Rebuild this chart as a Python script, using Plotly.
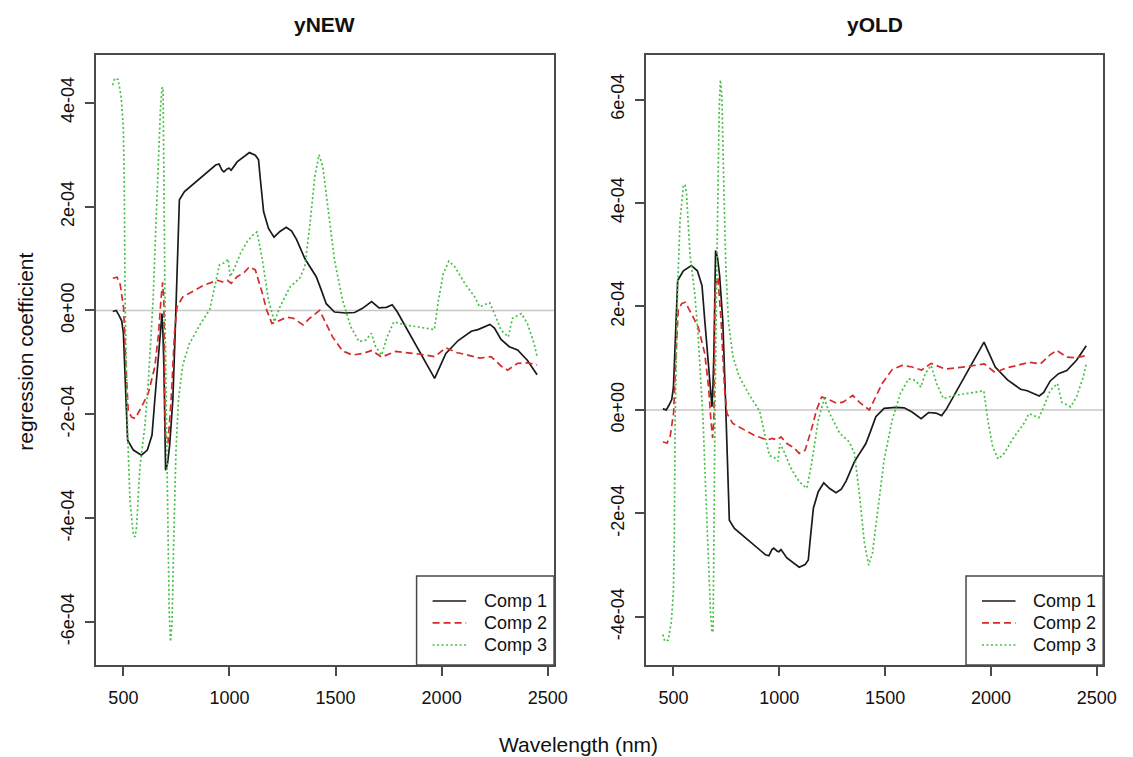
import plotly.graph_objects as go

# ---------------- data ----------------
wl_c1 = [450, 466, 480, 492, 500, 508, 520, 547, 585, 613, 635, 648, 666, 682, 687, 691, 699, 708, 718, 733,
         744, 749, 752, 758, 764, 788, 834, 881, 935, 951, 965, 974, 990, 998, 1008, 1036, 1068, 1094, 1122, 1137,
         1145, 1161, 1184, 1210, 1238, 1268, 1293, 1316, 1355, 1409, 1433, 1456, 1495, 1549, 1590, 1627, 1670, 1705,
         1740, 1767, 1790, 1967, 2020, 2078, 2140, 2171, 2228, 2249, 2280, 2319, 2358, 2404, 2450]
ynew_c1 = [-0.02e-4, 0.00e-4, -0.10e-4, -0.20e-4, -0.44e-4, -1.41e-4, -2.50e-4, -2.69e-4, -2.79e-4, -2.69e-4,
           -2.40e-4, -1.73e-4, -0.76e-4, -0.06e-4, -0.50e-4, -1.09e-4, -3.08e-4, -2.95e-4, -2.60e-4, -1.73e-4,
           -0.44e-4, 0.20e-4, 0.97e-4, 1.60e-4, 2.13e-4, 2.29e-4, 2.45e-4, 2.61e-4, 2.80e-4, 2.82e-4,
           2.70e-4, 2.67e-4, 2.73e-4, 2.74e-4, 2.70e-4, 2.86e-4, 2.96e-4, 3.04e-4, 2.99e-4, 2.90e-4,
           2.55e-4, 1.90e-4, 1.58e-4, 1.41e-4, 1.52e-4, 1.60e-4, 1.53e-4, 1.37e-4, 1.00e-4, 0.65e-4,
           0.39e-4, 0.13e-4, -0.03e-4, -0.05e-4, -0.04e-4, 0.04e-4, 0.17e-4, 0.05e-4,
           0.06e-4, 0.11e-4, -0.02e-4, -1.31e-4, -0.83e-4, -0.58e-4, -0.40e-4, -0.37e-4, -0.27e-4, -0.34e-4,
           -0.56e-4, -0.70e-4, -0.76e-4, -0.96e-4, -1.24e-4]
yold_c1 = [0.02e-4, 0.00e-4, 0.10e-4, 0.20e-4, 0.44e-4, 1.41e-4, 2.50e-4, 2.69e-4, 2.79e-4, 2.69e-4,
           2.40e-4, 1.73e-4, 0.76e-4, 0.06e-4, 0.50e-4, 1.09e-4, 3.08e-4, 2.95e-4, 2.60e-4, 1.73e-4,
           0.44e-4, -0.20e-4, -0.97e-4, -1.60e-4, -2.13e-4, -2.29e-4, -2.45e-4, -2.61e-4, -2.80e-4, -2.82e-4,
           -2.70e-4, -2.67e-4, -2.73e-4, -2.74e-4, -2.70e-4, -2.86e-4, -2.96e-4, -3.04e-4, -2.99e-4, -2.90e-4,
           -2.55e-4, -1.90e-4, -1.58e-4, -1.41e-4, -1.52e-4, -1.60e-4, -1.53e-4, -1.37e-4, -1.00e-4, -0.65e-4,
           -0.39e-4, -0.13e-4, 0.03e-4, 0.05e-4, 0.04e-4, -0.04e-4, -0.17e-4, -0.05e-4,
           -0.06e-4, -0.11e-4, 0.02e-4, 1.31e-4, 0.83e-4, 0.58e-4, 0.40e-4, 0.37e-4, 0.27e-4, 0.34e-4,
           0.56e-4, 0.70e-4, 0.76e-4, 0.96e-4, 1.24e-4]

wl_c2 = [450, 470, 485, 501, 512, 523, 540, 556, 585, 617, 648, 666, 677, 685, 691, 697, 710, 725, 741, 753,
         780, 834, 881, 943, 966, 990, 1008, 1036, 1069, 1094, 1122, 1153, 1176, 1200, 1223, 1270, 1301, 1347, 1378,
         1425, 1456, 1486, 1533, 1580, 1627, 1672, 1717, 1783, 1891, 1968, 2020, 2070, 2124, 2180, 2233, 2280, 2311,
         2358, 2404, 2450]
ynew_c2 = [0.62e-4, 0.64e-4, 0.50e-4, 0.05e-4, -1.08e-4, -1.95e-4, -2.06e-4, -2.08e-4, -1.86e-4, -1.60e-4,
           -1.09e-4, -0.44e-4, 0.20e-4, 0.54e-4, 0.20e-4, -2.37e-4, -2.56e-4, -1.73e-4, -0.44e-4, 0.07e-4,
           0.26e-4, 0.39e-4, 0.49e-4, 0.58e-4, 0.55e-4, 0.58e-4, 0.52e-4, 0.65e-4, 0.73e-4, 0.84e-4,
           0.78e-4, 0.36e-4, 0.00e-4, -0.25e-4, -0.22e-4, -0.13e-4, -0.15e-4, -0.28e-4, -0.15e-4,
           0.00e-4, -0.25e-4, -0.51e-4, -0.78e-4, -0.86e-4, -0.83e-4, -0.77e-4, -0.90e-4, -0.79e-4, -0.84e-4,
           -0.89e-4, -0.72e-4, -0.81e-4, -0.86e-4, -0.92e-4, -0.89e-4, -1.07e-4, -1.15e-4,
           -1.02e-4, -1.01e-4, -1.05e-4]
yold_c2 = [-0.62e-4, -0.64e-4, -0.50e-4, -0.05e-4, 1.08e-4, 1.95e-4, 2.06e-4, 2.08e-4, 1.86e-4, 1.60e-4,
           1.09e-4, 0.44e-4, -0.20e-4, -0.54e-4, -0.20e-4, 2.37e-4, 2.56e-4, 1.73e-4, 0.44e-4, -0.07e-4,
           -0.26e-4, -0.39e-4, -0.49e-4, -0.58e-4, -0.55e-4, -0.58e-4, -0.52e-4, -0.65e-4, -0.73e-4, -0.84e-4,
           -0.78e-4, -0.36e-4, 0.00e-4, 0.25e-4, 0.22e-4, 0.13e-4, 0.15e-4, 0.28e-4, 0.15e-4,
           0.00e-4, 0.25e-4, 0.51e-4, 0.78e-4, 0.86e-4, 0.83e-4, 0.77e-4, 0.90e-4, 0.79e-4, 0.84e-4,
           0.89e-4, 0.72e-4, 0.81e-4, 0.86e-4, 0.92e-4, 0.89e-4, 1.07e-4, 1.15e-4,
           1.02e-4, 1.01e-4, 1.05e-4]

wl_c3 = [450, 459, 475, 490, 500, 504, 508, 515, 520, 531, 547, 555, 562, 578, 601, 617, 632, 640, 650, 665,
         675, 682, 687, 690, 697, 707, 716, 722, 729, 738, 748, 760, 780, 810, 860, 907, 929, 953, 976, 994,
         1003, 1022, 1053, 1084, 1110, 1130, 1153, 1184, 1212, 1238, 1285, 1331, 1355, 1378, 1402, 1422, 1440, 1464,
         1495, 1533, 1572, 1611, 1643, 1669, 1689, 1717, 1743, 1775, 1829, 1891, 1966, 1985, 2008, 2034, 2062, 2109,
         2156, 2179, 2226, 2249, 2280, 2314, 2334, 2376, 2404, 2436, 2450]
ynew_c3 = [4.34e-4, 4.47e-4, 4.45e-4, 4.10e-4, 3.50e-4, 2.50e-4, 0.20e-4, -1.09e-4, -2.37e-4, -3.65e-4,
           -4.33e-4, -4.36e-4, -4.17e-4, -3.01e-4, -2.24e-4, -1.41e-4, -0.44e-4, 0.20e-4, 1.30e-4, 2.90e-4,
           3.90e-4, 4.28e-4, 4.30e-4, 3.00e-4, -0.30e-4, -3.30e-4, -5.80e-4, -6.38e-4, -6.05e-4, -4.30e-4,
           -2.70e-4, -1.70e-4, -1.05e-4, -0.65e-4, -0.28e-4, 0.02e-4, 0.43e-4, 0.88e-4, 0.92e-4, 0.99e-4,
           0.65e-4, 0.80e-4, 1.11e-4, 1.33e-4, 1.45e-4, 1.51e-4, 1.03e-4, 0.20e-4, -0.22e-4, 0.07e-4,
           0.45e-4, 0.62e-4, 0.84e-4, 1.61e-4, 2.57e-4, 3.00e-4, 2.77e-4, 2.00e-4,
           0.97e-4, 0.20e-4, -0.32e-4, -0.60e-4, -0.57e-4, -0.44e-4, -0.70e-4, -0.86e-4, -0.51e-4, -0.22e-4,
           -0.28e-4, -0.32e-4, -0.37e-4, 0.20e-4, 0.71e-4, 0.95e-4, 0.84e-4, 0.52e-4,
           0.26e-4, 0.07e-4, 0.15e-4, -0.06e-4, -0.38e-4, -0.51e-4, -0.15e-4, -0.06e-4, -0.25e-4, -0.64e-4, -0.89e-4]
yold_c3 = [-4.34e-4, -4.47e-4, -4.45e-4, -4.10e-4, -3.50e-4, -2.50e-4, -0.20e-4, 1.09e-4, 2.37e-4, 3.65e-4,
           4.33e-4, 4.36e-4, 4.17e-4, 3.01e-4, 2.24e-4, 1.41e-4, 0.44e-4, -0.20e-4, -1.30e-4, -2.90e-4,
           -3.90e-4, -4.28e-4, -4.30e-4, -3.00e-4, 0.30e-4, 3.30e-4, 5.80e-4, 6.38e-4, 6.05e-4, 4.30e-4,
           2.70e-4, 1.70e-4, 1.05e-4, 0.65e-4, 0.28e-4, -0.02e-4, -0.43e-4, -0.88e-4, -0.92e-4, -0.99e-4,
           -0.65e-4, -0.80e-4, -1.11e-4, -1.33e-4, -1.45e-4, -1.51e-4, -1.03e-4, -0.20e-4, 0.22e-4, -0.07e-4,
           -0.45e-4, -0.62e-4, -0.84e-4, -1.61e-4, -2.57e-4, -3.00e-4, -2.77e-4, -2.00e-4,
           -0.97e-4, -0.20e-4, 0.32e-4, 0.60e-4, 0.57e-4, 0.44e-4, 0.70e-4, 0.86e-4, 0.51e-4, 0.22e-4,
           0.28e-4, 0.32e-4, 0.37e-4, -0.20e-4, -0.71e-4, -0.95e-4, -0.84e-4, -0.52e-4,
           -0.26e-4, -0.07e-4, -0.15e-4, 0.06e-4, 0.38e-4, 0.51e-4, 0.15e-4, 0.06e-4, 0.25e-4, 0.64e-4, 0.89e-4]

panel_titles = ["yNEW", "yOLD"]
series_names = ["Comp 1", "Comp 2", "Comp 3"]
x_tickvals = [500, 1000, 1500, 2000, 2500]
ynew_tickvals = [-6e-4, -4e-4, -2e-4, 0, 2e-4, 4e-4]
ynew_ticktext = ["-6e-04", "-4e-04", "-2e-04", "0e+00", "2e-04", "4e-04"]
yold_tickvals = [-4e-4, -2e-4, 0, 2e-4, 4e-4, 6e-4]
yold_ticktext = ["-4e-04", "-2e-04", "0e+00", "2e-04", "4e-04", "6e-04"]

# ---------------- styling ----------------
W, H = 1133, 757
FONT = "Liberation Sans, Arial, sans-serif"
AXC = "#4a4a4a"
colors = ["#1a1a1a", "#D42B2B", "#45C045"]
dashes = ["solid", "7px,4px", "2px,2.5px"]
widths = [1.7, 1.7, 1.7]

fig = go.Figure()
panels = [
    ("x", "y", [(wl_c1, ynew_c1), (wl_c2, ynew_c2), (wl_c3, ynew_c3)]),
    ("x2", "y2", [(wl_c1, yold_c1), (wl_c2, yold_c2), (wl_c3, yold_c3)]),
]
for xa, ya, series in panels:
    for i, (xs, ys) in enumerate(series):
        fig.add_trace(go.Scatter(
            x=xs, y=ys, mode="lines", name=series_names[i], showlegend=False,
            xaxis=xa, yaxis=ya,
            line=dict(color=colors[i], width=widths[i], dash=dashes[i]),
        ))

ydom = [1 - 665 / H, 1 - 55 / H]
xdom1 = [97 / W, 561 / W]
xdom2 = [654 / W, 1117 / W]

common_x = dict(range=[370, 2530], tickvals=x_tickvals, ticks="outside", ticklen=9, tickwidth=1.5,
                tickcolor=AXC, showline=True, linecolor=AXC, linewidth=1.5, mirror=True,
                showgrid=False, zeroline=False, ticklabelstandoff=7,
                tickfont=dict(family=FONT, size=18, color="#111"))
common_y = dict(ticks="outside", ticklen=9, tickwidth=1.5, tickcolor=AXC, showline=True, linecolor=AXC,
                linewidth=1.5, mirror=True, showgrid=False, zeroline=False, tickangle=-90,
                ticklabelstandoff=4, tickfont=dict(family=FONT, size=18, color="#111"))

fig.update_layout(
    width=W, height=H, margin=dict(l=0, r=0, t=0, b=0),
    paper_bgcolor="white", plot_bgcolor="white", showlegend=False,
    xaxis=dict(domain=xdom1, anchor="y", **common_x),
    xaxis2=dict(domain=xdom2, anchor="y2", **common_x),
    yaxis=dict(domain=ydom, anchor="x", range=[-6.83e-4, 4.92e-4], tickvals=ynew_tickvals,
               ticktext=ynew_ticktext, **common_y),
    yaxis2=dict(domain=ydom, anchor="x2", range=[-4.93e-4, 6.86e-4], tickvals=yold_tickvals,
                ticktext=yold_ticktext, **common_y),
)

shapes = []
annotations = []
for k, (xa, ya) in enumerate([("x", "y"), ("x2", "y2")]):
    xd = "x domain" if xa == "x" else "x2 domain"
    yd = "y domain" if ya == "y" else "y2 domain"
    # zero reference line
    shapes.append(dict(type="line", xref=xd, yref=ya, x0=0, x1=1, y0=0, y1=0,
                       line=dict(color="#c8c8c8", width=1.5), layer="below"))
    # legend box
    shapes.append(dict(type="rect", xref=xd, yref=yd, x0=0.700, x1=1.0, y0=0.0, y1=0.1459,
                       line=dict(color=AXC, width=1.5), fillcolor="white", layer="above"))
    for i, yy in enumerate([0.1049, 0.0689, 0.0328]):
        shapes.append(dict(type="line", xref=xd, yref=yd, x0=0.7349, x1=0.8082, y0=yy, y1=yy,
                           line=dict(color=colors[i], width=widths[i], dash=dashes[i]), layer="above"))
        annotations.append(dict(text=series_names[i], xref=xd, yref=yd, x=0.8427, y=yy,
                                xanchor="left", yanchor="middle", showarrow=False,
                                font=dict(family=FONT, size=18, color="#111")))
    # panel title
    annotations.append(dict(text="<b>%s</b>" % panel_titles[k], xref=xd, yref="paper", x=0.5,
                            y=1 - 24 / H, xanchor="center", yanchor="middle", showarrow=False,
                            font=dict(family=FONT, size=21, color="#111")))

annotations.append(dict(text="regression coefficient", xref="paper", yref="paper", x=25 / W,
                        y=1 - 352 / H, textangle=-90, xanchor="center", yanchor="middle",
                        showarrow=False, font=dict(family=FONT, size=21, color="#111")))
annotations.append(dict(text="Wavelength (nm)", xref="paper", yref="paper", x=586 / W,
                        y=1 - 744 / H, xanchor="center", yanchor="middle",
                        showarrow=False, font=dict(family=FONT, size=21, color="#111")))

fig.update_layout(shapes=shapes, annotations=annotations)
fig.write_html("out.html")
